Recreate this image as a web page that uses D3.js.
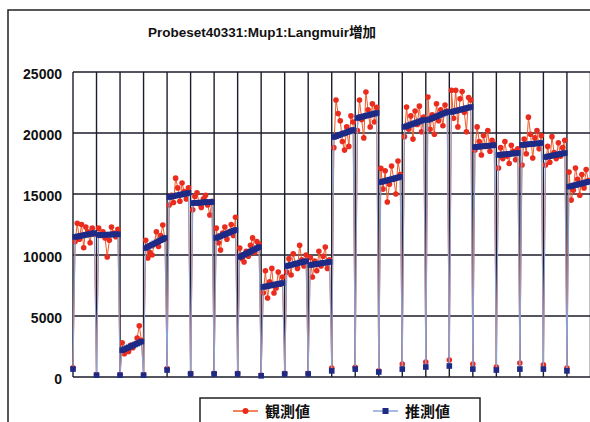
<!DOCTYPE html>
<html>
<head>
<meta charset="utf-8">
<script src="https://cdn.jsdelivr.net/npm/d3@7"></script>
<style>
  body { margin: 0; background: #fff; overflow: hidden; }
  text { font-family: "Liberation Sans", Arial, "Noto Sans CJK JP", sans-serif; font-weight: bold; }
</style>
</head>
<body>
<div id="chart"></div>
<script>
// 22 groups, 11 points each: first point is the low one, then 10 points of the run
const pointsPerGroup = 11;
const groupCount = 22;

const observed = [
  750, 11100,12600,11300,12500,10600,12300,11900,11000,12200,11700,
  200, 12200,11600,11900,11400,9840,11200,12300,11800,11500,12100,
  200, 2800,1900,2300,2100,2600,2400,2700,3200,4200,3000,
  200, 11200,9750,10200,10000,10900,11900,10700,11600,12450,11300,
  700, 14100,14900,14300,16300,15500,14400,15900,15200,14600,15500,
  300, 13700,14800,15100,14200,13900,14600,14900,14100,13280,14400,
  300, 12200,11000,10400,11800,12300,11300,11900,12500,11600,13100,
  300, 10570,9700,9430,10300,9900,10800,11400,10200,11100,10900,
  150, 6900,8700,6470,7800,8900,6880,7300,8600,7600,8200,
  300, 8600,9700,8360,10100,9300,8900,10800,9600,9100,10000,
  300, 9800,8200,9500,8700,10300,9100,9900,10650,8900,9600,
  740, 18800,22700,21600,21000,19300,18600,20500,18900,21400,20900,
  800, 20200,22700,21100,19600,23360,21900,20500,22400,20900,22100,
  500, 17100,15400,16900,14340,15800,17300,16200,15000,17700,16600,
  1070, 19700,22130,20300,21400,19500,21800,20700,22200,20100,21300,
  1230, 22950,20300,21500,19900,22400,21000,21900,20600,22300,21800,
  1390, 23500,21200,23500,20500,22800,23400,21700,20100,22900,22700,
  1070, 18600,20500,19300,18200,19800,18900,20200,18500,19400,19100,
  820, 17130,18800,17900,19300,18100,17500,19000,18500,17800,18700,
  1150, 17380,19500,18300,21300,19900,17950,19600,20200,18700,19800,
  1000, 17380,18900,17600,19700,18400,17900,19200,18100,18800,19400,
  740, 16800,14500,15300,17130,16200,14900,16600,15500,17000,16100
];

const estimated = [
  650, 11480,11515,11550,11585,11620,11655,11690,11725,11760,11800,
  150, 11640,11650,11655,11660,11665,11670,11680,11685,11690,11700,
  150, 2200,2280,2360,2430,2510,2590,2660,2740,2820,2900,
  150, 10570,10660,10760,10850,10940,11030,11120,11210,11300,11400,
  570, 14750,14790,14820,14860,14900,14930,14970,15010,15040,15080,
  250, 14260,14270,14280,14290,14300,14310,14320,14330,14340,14350,
  250, 11400,11470,11550,11620,11690,11760,11830,11910,11980,12050,
  250, 9840,9930,10020,10110,10200,10290,10380,10470,10560,10650,
  100, 7380,7420,7450,7490,7520,7560,7600,7630,7670,7700,
  250, 9100,9140,9190,9230,9280,9320,9370,9410,9460,9500,
  250, 9180,9210,9240,9260,9290,9320,9350,9370,9400,9430,
  500, 19670,19730,19800,19860,19930,19990,20060,20120,20190,20250,
  650, 21230,21280,21320,21370,21410,21460,21500,21550,21590,21640,
  410, 15980,16030,16070,16120,16170,16210,16260,16310,16350,16400,
  650, 20500,20560,20630,20690,20750,20820,20880,20940,21010,21070,
  820, 21070,21140,21220,21290,21360,21430,21500,21580,21650,21720,
  900, 21720,21770,21810,21860,21900,21950,21990,22040,22080,22130,
  650, 18850,18870,18880,18900,18920,18930,18950,18970,18980,19000,
  570, 18200,18220,18240,18250,18270,18290,18310,18320,18340,18360,
  650, 19020,19040,19060,19070,19090,19110,19130,19140,19160,19180,
  650, 18030,18070,18100,18140,18180,18210,18250,18290,18320,18360,
  500, 15600,15640,15690,15730,15780,15820,15870,15910,15960,16000
];

const yTicks = [0, 5000, 10000, 15000, 20000, 25000];
const seriesNames = ["観測値", "推測値"];
const chartTitle = "Probeset40331:Mup1:Langmuir増加";

const W = 590, H = 422;
const plot = {left: 73, top: 72, bottom: 377, groupWidth: 23.52};

const svg = d3.select("#chart").append("svg")
  .attr("width", W)
  .attr("height", H);

// outer chart frame (runs off the right and bottom of the picture)
svg.append("rect")
  .attr("x", 8).attr("y", 10)
  .attr("width", 640).attr("height", 460)
  .attr("fill", "none")
  .attr("stroke", "#222")
  .attr("stroke-width", 1.5);

svg.append("text")
  .attr("x", 262).attr("y", 37)
  .attr("text-anchor", "middle")
  .style("font-size", "13.5px")
  .attr("fill", "#111")
  .text(chartTitle);

const x = d3.scaleLinear()
  .domain([0, pointsPerGroup * groupCount])
  .range([plot.left, plot.left + plot.groupWidth * groupCount]);

const y = d3.scaleLinear()
  .domain([0, 25000])
  .range([plot.bottom, plot.top]);

// horizontal gridlines
svg.append("g")
  .selectAll("line")
  .data(yTicks)
  .join("line")
    .attr("x1", plot.left).attr("x2", W + 20)
    .attr("y1", d => y(d)).attr("y2", d => y(d))
    .attr("stroke", "#1b1d2a")
    .attr("stroke-width", 1.5);

// vertical gridlines at each group start
svg.append("g")
  .selectAll("line")
  .data(d3.range(0, groupCount + 1).map(g => g * pointsPerGroup))
  .join("line")
    .attr("x1", d => x(d)).attr("x2", d => x(d))
    .attr("y1", y(25000)).attr("y2", y(0))
    .attr("stroke", "#1b1d2a")
    .attr("stroke-width", 1.4);

// y axis labels
svg.append("g")
  .selectAll("text")
  .data(yTicks)
  .join("text")
    .attr("x", 62)
    .attr("y", d => y(d) + 2)
    .attr("dy", "0.35em")
    .attr("text-anchor", "end")
    .style("font-size", "14px")
    .attr("fill", "#111")
    .text(d => d);

const line = d3.line()
  .x((d, i) => x(i))
  .y(d => y(d));

// observed series
svg.append("path")
  .datum(observed)
  .attr("d", line)
  .attr("fill", "none")
  .attr("stroke", "#ee5a2a")
  .attr("stroke-width", 1);

svg.append("g")
  .selectAll("circle")
  .data(observed)
  .join("circle")
    .attr("cx", (d, i) => x(i))
    .attr("cy", d => y(d))
    .attr("r", 2.8)
    .attr("fill", "#ea2c1e");

// estimated series
svg.append("path")
  .datum(estimated)
  .attr("d", line)
  .attr("fill", "none")
  .attr("stroke", "#8aa4dc")
  .attr("stroke-width", 1);

svg.append("g")
  .selectAll("rect")
  .data(estimated)
  .join("rect")
    .attr("x", (d, i) => x(i) - 2.8)
    .attr("y", d => y(d) - 2.8)
    .attr("width", 5.6)
    .attr("height", 5.6)
    .attr("fill", "#1d2a86");

// legend
const legend = svg.append("g");
legend.append("rect")
  .attr("x", 200).attr("y", 398)
  .attr("width", 280).attr("height", 40)
  .attr("fill", "#fff")
  .attr("stroke", "#222")
  .attr("stroke-width", 1.5);

const legendItems = [
  {name: seriesNames[0], x: 233, line: "#ee5a2a", mark: "#ea2c1e", shape: "circle"},
  {name: seriesNames[1], x: 373, line: "#8aa4dc", mark: "#1d2a86", shape: "square"}
];

legendItems.forEach(it => {
  legend.append("line")
    .attr("x1", it.x).attr("x2", it.x + 25)
    .attr("y1", 411).attr("y2", 411)
    .attr("stroke", it.line)
    .attr("stroke-width", 1.5);
  if (it.shape === "circle") {
    legend.append("circle")
      .attr("cx", it.x + 12.5).attr("cy", 411).attr("r", 3)
      .attr("fill", it.mark);
  } else {
    legend.append("rect")
      .attr("x", it.x + 9.5).attr("y", 408)
      .attr("width", 6).attr("height", 6)
      .attr("fill", it.mark);
  }
  legend.append("text")
    .attr("x", it.x + 32).attr("y", 417)
    .style("font-size", "15px")
    .attr("fill", "#111")
    .text(it.name);
});
</script>
</body>
</html>
